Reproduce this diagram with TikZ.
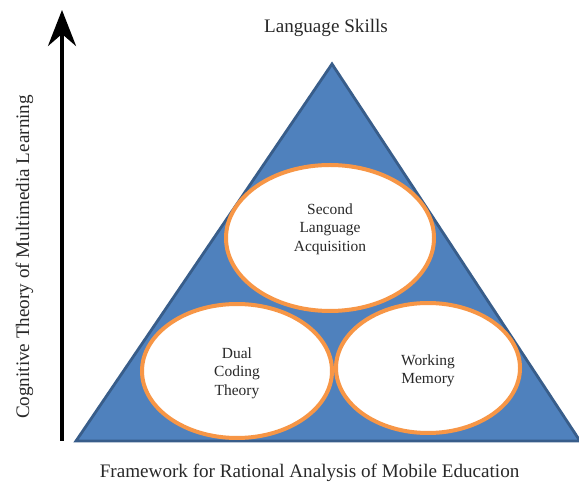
\documentclass[tikz,border=0pt]{standalone}
\usepackage{fontspec}
\setmainfont{Liberation Serif}
\usetikzlibrary{arrows,arrows.meta}
\usetikzlibrary{shapes.geometric}
\definecolor{dreieck}{RGB}{79,129,189}
\definecolor{dreieckrand}{RGB}{56,93,138}
\definecolor{orangerand}{RGB}{247,150,70}
\definecolor{schrift}{RGB}{40,40,40}

\begin{document}
\begin{tikzpicture}[schrift,
    titel/.style={font=\fontsize{13.6}{16}\selectfont, anchor=base},
    bubble/.style={ellipse, draw=orangerand, line width=0.1cm, fill=white, inner sep=0pt},
    innen/.style={font=\fontsize{11}{13.2}\selectfont, align=center}]

    \useasboundingbox (0,0) rectangle (14.475,12.075);

    % Achse
    \coordinate (ybot) at (1.55,1.05);
    \coordinate (ytop) at (1.55,11.825);
    \draw[black, line width=0.1cm, -{Stealth[length=0.9cm, width=0.7cm, inset=0.3cm]}] (ybot) -- (ytop);

    % Dreieck
    \coordinate (bl) at (1.9,1.05);
    \coordinate (br) at (14.5,1.05);
    \coordinate (apex) at (8.3,10.475);
    \draw[line width=0.07cm, draw=dreieckrand, fill=dreieck] (bl) -- (br) -- (apex) -- cycle;

    \node[bubble, minimum width=5.2cm, minimum height=3.65cm] (sla) at (8.25,6.125) {};
    \node[bubble, minimum width=4.75cm, minimum height=3.35cm] (dct) at (5.925,2.8) {};
    \node[bubble, minimum width=4.6cm, minimum height=3.25cm] (wm) at (10.7,2.875) {};

    \node[innen] (slatext) at ([yshift=0.225cm]sla.center) {Second\\Language\\Acquisition};
    \node[innen] (dcttext) at ([yshift=-0.05cm]dct.center) {Dual\\Coding\\Theory};
    \node[innen] (wmtext) at ([yshift=-0.075cm]wm.center) {Working\\Memory};

    \node[titel] (skills) at (8.15,11.25) {Language Skills};
    \node[titel] (framework) at (7.74,0.15) {Framework for Rational Analysis of Mobile Education};
    \node[titel, rotate=90] (cognitive) at (0.725,5.65) {Cognitive Theory of Multimedia Learning};

\end{tikzpicture}
\end{document}
